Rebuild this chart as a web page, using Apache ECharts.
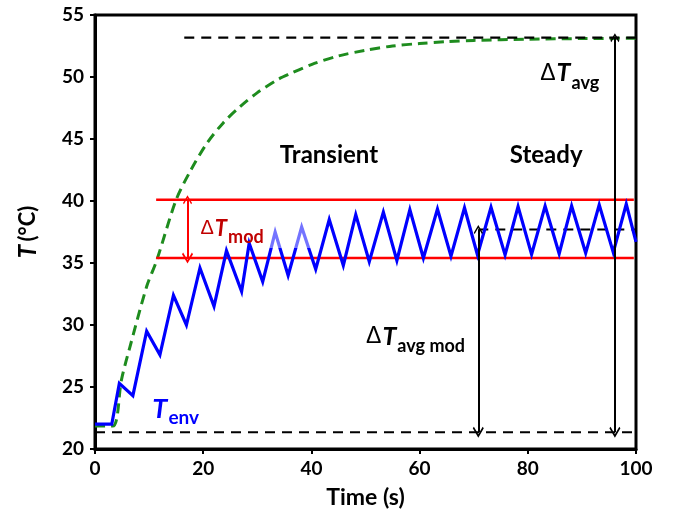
<!DOCTYPE html>
<html><head><meta charset="utf-8">
<script src="https://cdn.jsdelivr.net/npm/echarts@6/dist/echarts.min.js"></script>
<style>html,body{margin:0;padding:0;background:#fff}#c{width:678px;height:517px}</style>
</head><body><div id="c"></div>
<script>
// ---- data ----
const xTicks = [0, 20, 40, 60, 80, 100];
const yTicks = [20, 25, 30, 35, 40, 45, 50, 55];

// T_env (blue, modulated)
const envTime = [0, 3.1, 4.5, 7.0, 9.55, 12.0, 14.5, 16.9, 19.4, 22.0, 24.3, 27.1, 28.5, 31.0, 33.3, 35.7, 38.2, 40.8, 43.3, 45.9, 48.2, 50.7, 53.3, 55.8, 58.2, 60.7, 63.3, 65.8, 68.3, 70.7, 73.2, 75.8, 78.2, 80.7, 83.2, 85.8, 88.1, 90.7, 93.2, 95.8, 98.2, 100];
const envTemp = [22.0, 22.0, 25.3, 24.3, 29.5, 27.6, 32.4, 30.0, 34.6, 31.5, 36.0, 32.7, 36.6, 33.5, 37.5, 34.0, 37.9, 34.5, 38.5, 34.8, 38.9, 35.1, 39.1, 35.2, 39.3, 35.4, 39.35, 35.55, 39.45, 35.65, 39.5, 35.65, 39.55, 35.7, 39.6, 35.75, 39.6, 35.8, 39.7, 35.85, 39.75, 36.7];

// steady (unmodulated) response (green dashed)
const avgTime = [0, 3.3, 4.9, 6.5, 9.55, 11.4, 15, 17.6, 20.6, 23.7, 26.8, 29.9, 33.6, 36, 40, 45, 50, 55, 60, 65, 70, 80, 90, 100];
const avgTemp = [21.85, 21.85, 25.6, 28.3, 33.1, 35.2, 40.1, 42.4, 44.6, 46.3, 47.6, 48.7, 49.75, 50.25, 51.0, 51.7, 52.15, 52.5, 52.7, 52.85, 52.95, 53.05, 53.1, 53.12];

// reference levels
const modBandTemps = [35.4, 40.1];      // red lines
const modBandTimes = [11.3, 99.6];
const baseTemp = 21.35;                 // black dashed bottom
const steadyAvgTemp = 53.17;            // black dashed top
const steadyModTemp = 37.7;             // black dashed middle
const steadyAvgStart = 16.5;
const modAvgStart = 70.85;
const modArrowTime = 17.1;
const avgArrowTime = 96.1;
const avgModArrowTime = 70.85;
// faded region behind the ΔTmod label
const fadeBox = [29.8, 36.2, 40.0, 39.0];

const FONT = 'Lato';
const chev = 'path://M0,0 L6,7 L4.8,8.2 L0,2.6 L-4.8,8.2 L-6,7 Z';
const zip = (a, b) => a.map((v, i) => [v, b[i]]);

const arrowSeries = (coords, color) => ({
  type: 'lines', coordinateSystem: 'cartesian2d', z: 6, silent: true,
  symbol: [chev, chev], symbolSize: [11, 9], symbolOffset: [0, 4],
  lineStyle: { color: color, width: 2, opacity: 1, curveness: 0 },
  data: [{ coords: coords }]
});
const hline = (x0, x1, y, color, width, dashed) => ({
  type: 'line', data: [[x0, y], [x1, y]], symbol: 'none', silent: true, z: 4,
  lineStyle: { color: color, width: width, type: dashed ? [10, 7] : 'solid' }
});

// T token top-aligned, subscript bottom-aligned in a taller line -> lowered subscript
function rich(color, tSize, subSize) {
  const L = Math.round(tSize / 2 + subSize / 2 + 9);
  return {
    d: { fontFamily: 'Liberation Sans', fontSize: tSize - 2, lineHeight: L, verticalAlign: 'top', color: color, padding: [1, 1, 0, 0] },
    t: { fontFamily: FONT, fontSize: tSize, fontWeight: 'bold', fontStyle: 'italic', lineHeight: L, verticalAlign: 'top', color: color, padding: [0, 1, 0, 0] },
    s: { fontFamily: FONT, fontSize: subSize, fontWeight: 'bold', lineHeight: L, verticalAlign: 'bottom', color: color }
  };
}
const richLabel = (fmt, color, tSize, subSize) => ({
  position: 'right', distance: 0, formatter: fmt, color: color, opacity: 1,
  textBorderWidth: 0, rich: rich(color, tSize, subSize)
});

const labels = [
  { value: [43.25, 43.7], label: { position: 'inside', formatter: 'Transient', fontFamily: FONT, fontSize: 24, fontWeight: 'bold', color: '#000', textBorderWidth: 0 } },
  { value: [83.4, 43.7], label: { position: 'inside', formatter: 'Steady', fontFamily: FONT, fontSize: 24, fontWeight: 'bold', color: '#000', textBorderWidth: 0 } },
  { value: [19.5, 37.5], label: richLabel('{d|Δ}{t|T}{s|mod}', '#c00000', 22, 18) },
  { value: [10.6, 23.0], label: richLabel('{t|T}{s|env}', '#0000ff', 27, 19) },
  { value: [50.1, 28.8], label: richLabel('{d|Δ}{t|T}{s|avg mod}', '#000000', 25, 18) },
  { value: [82.3, 50.05], label: richLabel('{d|Δ}{t|T}{s|avg}', '#000000', 25, 18) }
];

const chart = echarts.init(document.getElementById('c'), null, { renderer: 'canvas' });
chart.setOption({
  animation: false,
  backgroundColor: '#fff',
  grid: { left: 95, right: 42, top: 15, bottom: 68, show: true, borderColor: '#000', borderWidth: 3, backgroundColor: 'transparent' },
  xAxis: {
    type: 'value', min: xTicks[0], max: xTicks[xTicks.length - 1], interval: xTicks[1] - xTicks[0],
    axisLine: { onZero: false, lineStyle: { color: '#000', width: 3 } },
    axisTick: { length: 5, lineStyle: { color: '#000', width: 2 } },
    axisLabel: { fontFamily: FONT, fontWeight: 'bold', fontSize: 19, color: '#000', margin: 10 },
    splitLine: { show: false },
    name: 'Time (s)', nameLocation: 'middle', nameGap: 37,
    nameTextStyle: { fontFamily: FONT, fontWeight: 'bold', fontSize: 23, color: '#000' }
  },
  yAxis: {
    type: 'value', min: yTicks[0], max: yTicks[yTicks.length - 1], interval: yTicks[1] - yTicks[0],
    axisLine: { onZero: false, lineStyle: { color: '#000', width: 3 } },
    axisTick: { length: 5, lineStyle: { color: '#000', width: 2 } },
    axisLabel: { fontFamily: FONT, fontWeight: 'bold', fontSize: 19, color: '#000', margin: 11 },
    splitLine: { show: false },
    name: '{i|T} {b|(°C)}', nameLocation: 'middle', nameRotate: 90, nameGap: 55,
    nameTextStyle: {
      color: '#000',
      rich: {
        i: { fontFamily: FONT, fontWeight: 'bold', fontStyle: 'italic', fontSize: 24, color: '#000' },
        b: { fontFamily: FONT, fontWeight: 'bold', fontSize: 22, color: '#000' }
      }
    }
  },
  series: [
    { type: 'line', data: zip(avgTime, avgTemp), symbol: 'none', z: 3, silent: true, smooth: 0.3,
      lineStyle: { color: '#1e8c1e', width: 3, type: [10, 6] } },
    hline(modBandTimes[0], modBandTimes[1], modBandTemps[1], '#ff0000', 2.5, false),
    hline(modBandTimes[0], modBandTimes[1], modBandTemps[0], '#ff0000', 2.5, false),
    { type: 'line', data: zip(envTime, envTemp), symbol: 'none', z: 5, silent: true,
      lineStyle: { color: '#0000ff', width: 3.2, join: 'miter' } },
    hline(xTicks[0], xTicks[xTicks.length - 1], baseTemp, '#000', 2.2, true),
    hline(steadyAvgStart, xTicks[xTicks.length - 1], steadyAvgTemp, '#000', 2.2, true),
    hline(modAvgStart, xTicks[xTicks.length - 1], steadyModTemp, '#000', 2.2, true),
    arrowSeries([[modArrowTime, modBandTemps[0]], [modArrowTime, modBandTemps[1]]], '#ff0000'),
    arrowSeries([[avgModArrowTime, baseTemp], [avgModArrowTime, steadyModTemp]], '#000'),
    arrowSeries([[avgArrowTime, baseTemp], [avgArrowTime, steadyAvgTemp]], '#000'),
    { type: 'custom', z: 7, silent: true, data: [fadeBox],
      renderItem: (params, api) => {
        const p0 = api.coord([api.value(0), api.value(1)]);
        const p1 = api.coord([api.value(2), api.value(3)]);
        return { type: 'rect', shape: { x: p0[0], y: p1[1], width: p1[0] - p0[0], height: p0[1] - p1[1] },
                 style: { fill: 'rgba(255,255,255,0.45)' } };
      } },
    { type: 'scatter', z: 10, silent: true, symbolSize: 0, itemStyle: { color: '#ffffff', opacity: 1 },
      label: { show: true, opacity: 1 }, data: labels }
  ]
});
</script></body></html>
